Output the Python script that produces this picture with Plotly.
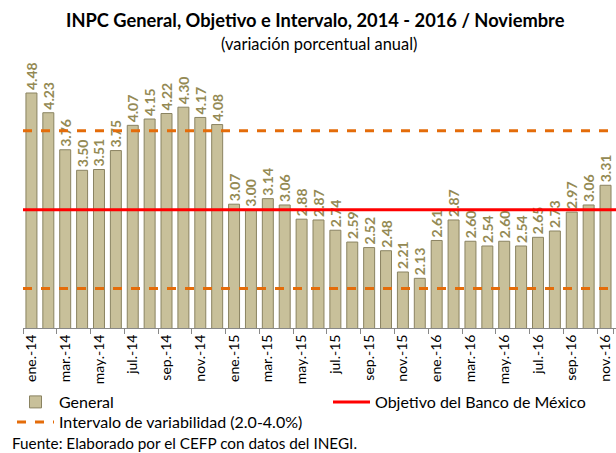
import plotly.graph_objects as go

months = ["ene.-14","feb.-14","mar.-14","abr.-14","may.-14","jun.-14","jul.-14","ago.-14","sep.-14","oct.-14","nov.-14","dic.-14",
          "ene.-15","feb.-15","mar.-15","abr.-15","may.-15","jun.-15","jul.-15","ago.-15","sep.-15","oct.-15","nov.-15","dic.-15",
          "ene.-16","feb.-16","mar.-16","abr.-16","may.-16","jun.-16","jul.-16","ago.-16","sep.-16","oct.-16","nov.-16"]
general = [4.48,4.23,3.76,3.50,3.51,3.75,4.07,4.15,4.22,4.30,4.17,4.08,
           3.07,3.00,3.14,3.06,2.88,2.87,2.74,2.59,2.52,2.48,2.21,2.13,
           2.61,2.87,2.60,2.54,2.60,2.54,2.65,2.73,2.97,3.06,3.31]
objetivo = 3.0
intervalo = [2.0, 4.0]
tick_labels = months[::2]

FONT = "Lato"
W, H = 616, 453
ML, MR, MT, MB = 23, 0, 52, 125
PW = W - ML - MR

fig = go.Figure()
fig.add_trace(go.Bar(
    x=months, y=general, name="General",
    marker=dict(color="#C8C09A", line=dict(color="#8A8361", width=1)),
    text=[f"{v:.2f}" for v in general], textposition="outside", textangle=-90,
    constraintext="none",
    textfont=dict(family=FONT, size=14, color="#948A54", weight="bold"),
    cliponaxis=False, legend="legend",
))

fig.add_shape(type="line", xref="x domain", x0=0, x1=1, yref="y", y0=objetivo, y1=objetivo,
              line=dict(color="#FF0000", width=3), showlegend=True,
              name="Objetivo del Banco de México", legend="legend2")
for i, v in enumerate(intervalo):
    fig.add_shape(type="line", xref="x domain", x0=0, x1=1, yref="y", y0=v, y1=v,
                  line=dict(color="#E46C0A", width=3, dash="dash"), showlegend=(i == 0),
                  name="Intervalo de variabilidad (2.0-4.0%)", legend="legend3")

leg_common = dict(orientation="v", xref="container", yref="container",
                  xanchor="left", yanchor="top", font=dict(size=16, family=FONT),
                  itemwidth=37, bgcolor="rgba(0,0,0,0)")
fig.update_layout(
    width=W, height=H,
    margin=dict(l=ML, r=MR, t=MT, b=MB, autoexpand=False),
    paper_bgcolor="white", plot_bgcolor="white",
    font=dict(family=FONT, color="black"),
    bargap=0.35,
    showlegend=True,
    legend=dict(x=12 / W, y=1 - 385 / H, **leg_common),
    legend2=dict(x=328 / W, y=1 - 385 / H, **leg_common),
    legend3=dict(x=12 / W, y=1 - 405 / H, **leg_common),
    annotations=[
        dict(text="<b>INPC General, Objetivo e Intervalo, 2014 - 2016 / Noviembre</b>",
             xref="paper", yref="paper", x=(315.5 - ML) / PW, y=1, yshift=32, showarrow=False,
             font=dict(size=18.3, family=FONT), xanchor="center", yanchor="middle"),
        dict(text="(variación porcentual anual)",
             xref="paper", yref="paper", x=(319 - ML) / PW, y=1, yshift=9, showarrow=False,
             font=dict(size=16.4, family=FONT), xanchor="center", yanchor="middle"),
        dict(text="Fuente: Elaborado por el CEFP con datos del INEGI.",
             xref="paper", yref="paper", x=(10 - ML) / PW, y=0, yshift=-115, showarrow=False,
             font=dict(size=15.3, family=FONT), xanchor="left", yanchor="middle"),
    ],
)
fig.update_xaxes(type="category", tickmode="array", tickvals=tick_labels, ticktext=tick_labels,
                 tickangle=-90, tickfont=dict(size=14, family=FONT),
                 ticks="outside", tickson="boundaries", ticklen=5, tickcolor="#888888",
                 showline=True, linecolor="#888888", linewidth=1, showgrid=False,
                 ticklabeloverflow="allow", range=[-0.5, 34.62])
fig.update_yaxes(range=[1.5, 5.0], visible=False, showgrid=False)

fig.write_html("out.html", config={"displayModeBar": False},
               post_script="document.body.style.margin='0';document.body.style.overflow='hidden';")
